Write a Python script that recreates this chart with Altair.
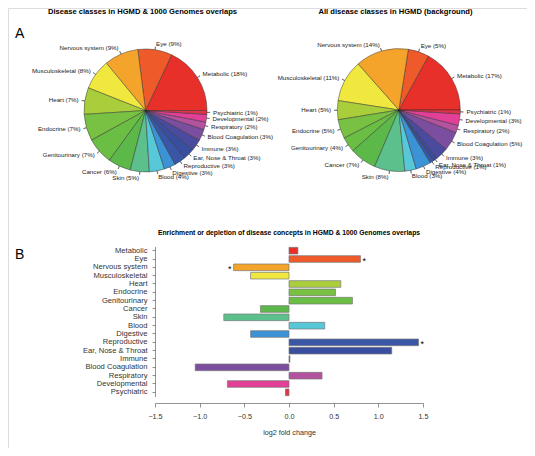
import math
import altair as alt
import pandas as pd

FONT = "Liberation Sans"

categories = ["Metabolic", "Eye", "Nervous system", "Musculoskeletal", "Heart",
              "Endocrine", "Genitourinary", "Cancer", "Skin", "Blood", "Digestive",
              "Reproductive", "Ear, Nose & Throat", "Immune", "Blood Coagulation",
              "Respiratory", "Developmental", "Psychiatric"]
# percentages printed in the labels
overlap_pct = [18, 9, 9, 8, 7, 7, 7, 6, 5, 4, 3, 3, 3, 3, 3, 2, 2, 1]
background_pct = [17, 5, 14, 11, 5, 5, 4, 7, 8, 3, 4, 1, 1, 3, 5, 2, 3, 1]
# slice sizes (unrounded estimates)
overlap_share = [18, 9, 9, 8, 7, 7, 7, 6, 5, 4, 3, 3, 3, 3, 3, 2, 2, 1]
background_share = [17, 5.5, 14, 11, 5, 5, 4, 7, 8, 3, 4, 1, 1, 3.4, 5, 2, 3, 1]
log2_fold_change = [0.10, 0.80, -0.62, -0.43, 0.58, 0.52, 0.71, -0.32, -0.73, 0.40,
                    -0.43, 1.45, 1.15, 0.01, -1.05, 0.37, -0.69, -0.04]
significant = ["", "*", "*", "", "", "", "", "", "", "", "", "*", "", "", "", "", "", ""]
colors = ["#E8302B", "#EE5A2A", "#F4A32B", "#F0E83E", "#AACE3B", "#79C142", "#6BBE44",
          "#5CB849", "#5CC08C", "#58C7D8", "#3B92D5", "#3957A6", "#3A4E9F", "#4A4B9E",
          "#7B4E9F", "#B3529F", "#E23F97", "#E03347"]
x_ticks = [-1.5, -1.0, -0.5, 0.0, 0.5, 1.0, 1.5]

title_left = "Disease classes in HGMD & 1000 Genomes overlaps"
title_right = "All disease classes in HGMD (background)"
title_bar = "Enrichment or depletion of disease concepts in HGMD & 1000 Genomes overlaps"

R = 61.5
color_scale = alt.Scale(domain=categories, range=colors)
theta_scale = alt.Scale(domain=[0, 1], range=[2.5 * math.pi, 0.5 * math.pi])


def pie_frame(shares, pcts):
    total = sum(shares)
    rows = []
    cum = 0
    for c, s, p in zip(categories, shares, pcts):
        start = cum / total
        cum += s
        end = cum / total
        mid = (start + end) / 2
        side = "right" if math.cos(2 * math.pi * mid) >= 0 else "left"
        rows.append(dict(category=c, start=start, end=end, mid=mid,
                         mid2=mid + 0.0004, label=f"{c} ({p}%)", side=side))
    return pd.DataFrame(rows)


def text_layer(txt, x, y, size, weight="normal", align="center", baseline="middle"):
    return alt.Chart(pd.DataFrame({"t": [txt]})).mark_text(
        font=FONT, fontSize=size, fontWeight=weight, align=align, baseline=baseline,
        color="black"
    ).encode(text="t:N", x=alt.value(x), y=alt.value(y))


def pie_layers(shares, pcts, cx, cy):
    df = pie_frame(shares, pcts)
    base = alt.Chart(df)
    arcs = base.mark_arc(outerRadius=R, stroke="#2a2a2a", strokeWidth=0.45).encode(
        theta=alt.Theta("start:Q", scale=theta_scale, stack=False),
        theta2="end:Q",
        color=alt.Color("category:N", scale=color_scale, legend=None),
        x=alt.value(cx), y=alt.value(cy),
    )
    ticks = base.mark_arc(innerRadius=R, outerRadius=R * 1.05, filled=False,
                          stroke="#555555", strokeWidth=0.6).encode(
        theta=alt.Theta("mid:Q", scale=theta_scale, stack=False),
        theta2="mid2:Q",
        x=alt.value(cx), y=alt.value(cy),
    )
    layers = [arcs, ticks]
    for side, align in [("right", "left"), ("left", "right")]:
        layers.append(
            base.transform_filter(f"datum.side == '{side}'").mark_text(
                radius=R * 1.1, align=align, baseline="middle", font=FONT,
                fontSize=6.2, color="#222222"
            ).encode(
                theta=alt.Theta("mid:Q", scale=theta_scale, stack=False),
                text="label:N",
                x=alt.value(cx), y=alt.value(cy),
            )
        )
    return layers


bar_df = pd.DataFrame({"category": categories, "log2fc": log2_fold_change,
                       "star": significant})

x_scale = alt.Scale(domain=[-1.5, 1.5], range=[147, 415], nice=False, zero=False)
y_scale = alt.Scale(domain=categories, range=[238.5, 388.5], paddingInner=0.2,
                    paddingOuter=0.1)

bars = alt.Chart(bar_df).mark_bar(stroke="#7a7a7a", strokeWidth=0.7).encode(
    x=alt.X("log2fc:Q", scale=x_scale,
            axis=alt.Axis(values=x_ticks, format=".1f", offset=-45, grid=False,
                          title="log2 fold change", titleFont=FONT, titleFontSize=7.2,
                          titleFontWeight="normal", titleColor="#333333",
                          titlePadding=9, labelFont=FONT, labelFontSize=7.2,
                          labelColor="#333333", labelPadding=5, tickSize=4,
                          tickColor="#777777", domainColor="#777777",
                          tickWidth=0.8, domainWidth=0.8, labelFlush=False)),
    y=alt.Y("category:N", scale=y_scale, sort=categories,
            axis=alt.Axis(title=None, offset=-147, grid=False, labelFont=FONT,
                          labelFontSize=7.6, labelColor="#333333", labelPadding=5,
                          tickSize=3, tickColor="#777777", domainColor="#777777",
                          tickWidth=0.8, domainWidth=0.8)),
    color=alt.Color("category:N", scale=color_scale, legend=None),
)

stars_pos = alt.Chart(bar_df).transform_filter(
    "datum.star == '*' && datum.log2fc > 0"
).mark_text(align="left", baseline="middle", dx=2, dy=2, font=FONT, fontSize=9,
            color="black").encode(
    x=alt.X("log2fc:Q", scale=x_scale),
    y=alt.Y("category:N", scale=y_scale, sort=categories),
    text="star:N",
)
stars_neg = alt.Chart(bar_df).transform_filter(
    "datum.star == '*' && datum.log2fc < 0"
).mark_text(align="right", baseline="middle", dx=-2, dy=2, font=FONT, fontSize=9,
            color="black").encode(
    x=alt.X("log2fc:Q", scale=x_scale),
    y=alt.Y("category:N", scale=y_scale, sort=categories),
    text="star:N",
)

layers = []
layers += pie_layers(overlap_share, overlap_pct, 137.5, 102.5)
layers += pie_layers(background_share, background_pct, 390.8, 102)
layers += [bars, stars_pos, stars_neg]
layers += [
    text_layer(title_left, 134.5, 0, 7.6, "bold", baseline="top"),
    text_layer(title_right, 387.5, 0, 7.6, "bold", baseline="top"),
    text_layer(title_bar, 281, 224.5, 6.8, "bold"),
    text_layer("A", 7, 30, 14, align="left", baseline="alphabetic"),
    text_layer("B", 7, 251, 14, align="left", baseline="alphabetic"),
]

chart = alt.layer(*layers).properties(
    width=519, height=440, padding=0, autosize=alt.AutoSizeParams(type="none")
).configure_view(stroke=None).configure(background="white")

chart.save("out.html", embed_options={"renderer": "svg", "actions": False})
